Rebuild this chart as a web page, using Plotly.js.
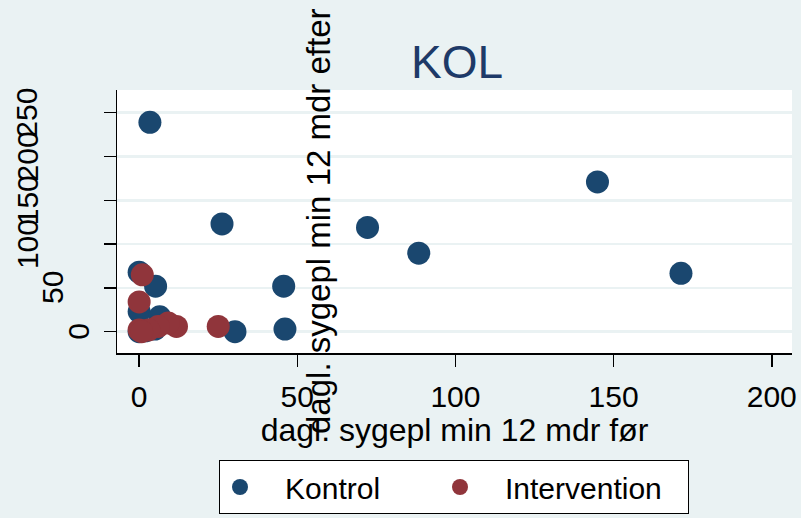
<!DOCTYPE html>
<html><head><meta charset="utf-8">
<script src="https://cdn.plot.ly/plotly-3.0.1.min.js"></script>
<style>html,body{margin:0;padding:0;background:#eaf2f3}</style>
</head><body><div id="chart" style="width:801px;height:518px"></div>
<script>
// Data
const kontrolX = [3.4, 26.2, 72.2, 88.4, 144.9, 171.3, 45.7, 46.1, 30.3, 5.2, 0, 0, 6.5, 0, 2, 5];
const kontrolY = [239, 123, 119, 89.6, 171, 66.7, 52, 3, 0, 52, 68, 23, 17, 0, 1, 3];
const interventionX = [1, 0, 25, 11.8, 9.2, 6, 3, 0, 0.8];
const interventionY = [65, 34, 6, 6, 10, 6, 2, 2, 0];
const xTicks = [0, 50, 100, 150, 200];
const yTicks = [0, 50, 100, 150, 200, 250];
const seriesNames = ['Kontrol', 'Intervention'];
const titleText = 'KOL';
const xTitle = 'dagl. sygepl min 12 mdr før';
const yTitle = 'dagl. sygepl min 12 mdr efter';

const FONT = 'Liberation Sans, Arial, Helvetica, sans-serif';
const L = 117, R = 792, T = 90, B = 353, W = 801, H = 518;
const pw = R - L, ph = B - T;
const PAD = '\u00a0\u00a0\u00a0';

const traces = [
  {x: kontrolX, y: kontrolY, name: PAD + seriesNames[0], type: 'scatter', mode: 'markers',
   marker: {size: 23, color: '#1a476f'}, legendwidth: 175, cliponaxis: false},
  {x: interventionX, y: interventionY, name: PAD + seriesNames[1], type: 'scatter', mode: 'markers',
   marker: {size: 23, color: '#90353b'}, legendwidth: 203, cliponaxis: false}
];

const annotations = yTicks.map(v => {
  const s = String(v);
  return {text: s, xref: 'paper', yref: 'y', x: 0, y: v, showarrow: false,
    textangle: -90, xanchor: 'center', yanchor: 'middle',
    xshift: (105 - 26 * s.length) - L,
    font: {family: FONT, size: 30, color: '#000'}};
});
annotations.push({text: yTitle, xref: 'paper', yref: 'paper',
  x: (318 - L) / pw, y: (B - 221) / ph, showarrow: false, textangle: -90,
  xanchor: 'center', yanchor: 'middle', font: {family: FONT, size: 33, color: '#000'}});

const layout = {
  width: W, height: H,
  margin: {l: L, r: W - R, t: T, b: H - B, pad: 0},
  paper_bgcolor: '#eaf2f3', plot_bgcolor: '#ffffff',
  font: {family: FONT, size: 30, color: '#000'},
  title: {text: titleText, font: {family: FONT, size: 46, color: '#1e3a68'},
    xref: 'container', yref: 'container', x: 457 / W, y: 1 - 62 / H,
    xanchor: 'center', yanchor: 'middle'},
  xaxis: {range: [-7.0, 206.4], tickvals: xTicks, ticktext: xTicks.map(String),
    ticks: 'outside', ticklen: 12, tickwidth: 1.5, tickcolor: '#000',
    showline: true, linecolor: '#000', linewidth: 1.5, showgrid: false, zeroline: false,
    tickfont: {family: FONT, size: 30}, ticklabelstandoff: 4,
    title: {text: xTitle, font: {family: FONT, size: 32}, standoff: 0}},
  yaxis: {range: [-24.3, 275.9], tickvals: yTicks, showticklabels: false,
    ticks: 'outside', ticklen: 12, tickwidth: 1.5, tickcolor: '#000',
    showline: true, linecolor: '#000', linewidth: 1.5,
    showgrid: true, gridcolor: '#eaf2f3', gridwidth: 2.5, zeroline: false},
  showlegend: true,
  legend: {orientation: 'h', xref: 'container', yref: 'container',
    x: 219 / W, xanchor: 'left', y: 1 - 460 / H, yanchor: 'top',
    bgcolor: '#ffffff', bordercolor: '#000', borderwidth: 1,
    font: {family: FONT, size: 30, color: '#000'}},
  annotations: annotations
};

Plotly.newPlot('chart', traces, layout, {displayModeBar: false, staticPlot: true});
</script></body></html>
